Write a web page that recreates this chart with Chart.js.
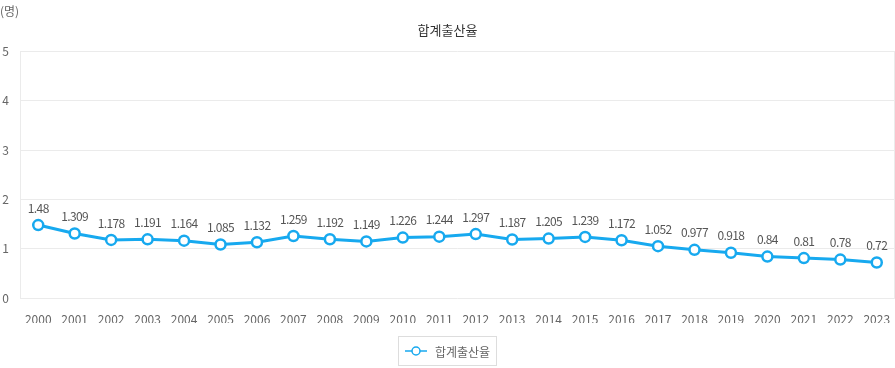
<!DOCTYPE html>
<html>
<head>
<meta charset="utf-8">
<script src="https://cdn.jsdelivr.net/npm/chart.js@4.4.1/dist/chart.umd.min.js"></script>
<style>
  html, body { margin: 0; padding: 0; background: #fff; }
  #wrap { position: relative; width: 895px; height: 368px; }
  #unit { position: absolute; left: 0px; top: 2px; font: 12px "Noto Sans CJK KR", sans-serif; color: #666; }
  #legend { position: absolute; left: 398px; top: 336px; width: 99px; height: 30px; border: 1px solid #ddd; box-sizing: border-box;
            display: flex; align-items: center; justify-content: center; font: 12px "Noto Sans CJK KR", sans-serif; color: #666; }
  #legend svg { margin-right: 8px; }
</style>
</head>
<body>
<div id="wrap">
  <canvas id="c" width="895" height="368"></canvas>
  <div id="unit">(명)</div>
  <div id="legend"><svg width="22" height="12"><line x1="0" y1="6" x2="22" y2="6" stroke="#17a9ef" stroke-width="1.5"/><circle cx="11" cy="6" r="4" fill="#fff" stroke="#17a9ef" stroke-width="1.5"/></svg><span>합계출산율</span></div>
</div>
<script>
const years = ['2000','2001','2002','2003','2004','2005','2006','2007','2008','2009','2010','2011','2012','2013','2014','2015','2016','2017','2018','2019','2020','2021','2022','2023'];
const tfr = [1.48,1.309,1.178,1.191,1.164,1.085,1.132,1.259,1.192,1.149,1.226,1.244,1.297,1.187,1.205,1.239,1.172,1.052,0.977,0.918,0.84,0.81,0.78,0.72];
const seriesName = '합계출산율';
const yTicks = [0,1,2,3,4,5];

const FONT = '"Noto Sans CJK KR", sans-serif';

const labelPlugin = {
  id: 'valueLabels',
  afterDatasetsDraw(chart) {
    const ctx = chart.ctx;
    const meta = chart.getDatasetMeta(0);
    ctx.save();
    ctx.font = '12px ' + FONT;
    ctx.fillStyle = '#555';
    ctx.textAlign = 'center';
    ctx.textBaseline = 'middle';
    try { ctx.letterSpacing = '-0.6px'; } catch(e) {}
    meta.data.forEach((pt, i) => {
      ctx.fillText(String(tfr[i]), pt.x, pt.y - 17);
    });
    ctx.restore();
  }
};

const sideBorders = {
  id: 'sideBorders',
  beforeDatasetsDraw(chart) {
    const {ctx, chartArea: a} = chart;
    ctx.save();
    ctx.strokeStyle = '#ebebeb';
    ctx.lineWidth = 1;
    ctx.beginPath();
    ctx.moveTo(Math.round(a.left) + 0.5, a.top);
    ctx.lineTo(Math.round(a.left) + 0.5, a.bottom);
    ctx.moveTo(Math.round(a.right) - 0.5, a.top);
    ctx.lineTo(Math.round(a.right) - 0.5, a.bottom);
    ctx.stroke();
    ctx.restore();
  }
};

new Chart(document.getElementById('c'), {
  type: 'line',
  data: {
    labels: years,
    datasets: [{
      label: seriesName,
      data: tfr,
      borderColor: '#17a9ef',
      borderWidth: 3,
      pointRadius: 5,
      pointBorderWidth: 2.5,
      pointBackgroundColor: '#fff',
      pointBorderColor: '#17a9ef',
      tension: 0,
      clip: false
    }]
  },
  options: {
    responsive: false,
    animation: false,
    layout: { autoPadding: false, padding: { top: 0, right: 0, bottom: 45, left: 0 } },
    plugins: {
      legend: { display: false },
      tooltip: { enabled: false },
      title: {
        display: true,
        text: seriesName,
        color: '#333',
        font: { family: FONT, size: 13, weight: 'normal' },
        padding: { top: 22, bottom: 14 }
      }
    },
    scales: {
      x: {
        offset: true,
        grid: { display: false, drawTicks: false },
        border: { display: false },
        ticks: { color: '#666', font: { family: FONT, size: 12 }, padding: 14, maxRotation: 0, autoSkip: false },
        afterFit(s) { s.height = 25; s.paddingLeft = 0; s.paddingRight = 0; }
      },
      y: {
        min: 0, max: 5,
        afterBuildTicks(s) { s.ticks = yTicks.map(v => ({ value: v })); },
        grid: { color: '#ebebeb', drawTicks: false },
        border: { display: false },
        ticks: { color: '#666', font: { family: FONT, size: 12 }, padding: 11 },
        afterFit(s) { s.width = 20; s.paddingTop = 0; s.paddingBottom = 0; }
      }
    }
  },
  plugins: [labelPlugin, sideBorders]
});
</script>
</body>
</html>
